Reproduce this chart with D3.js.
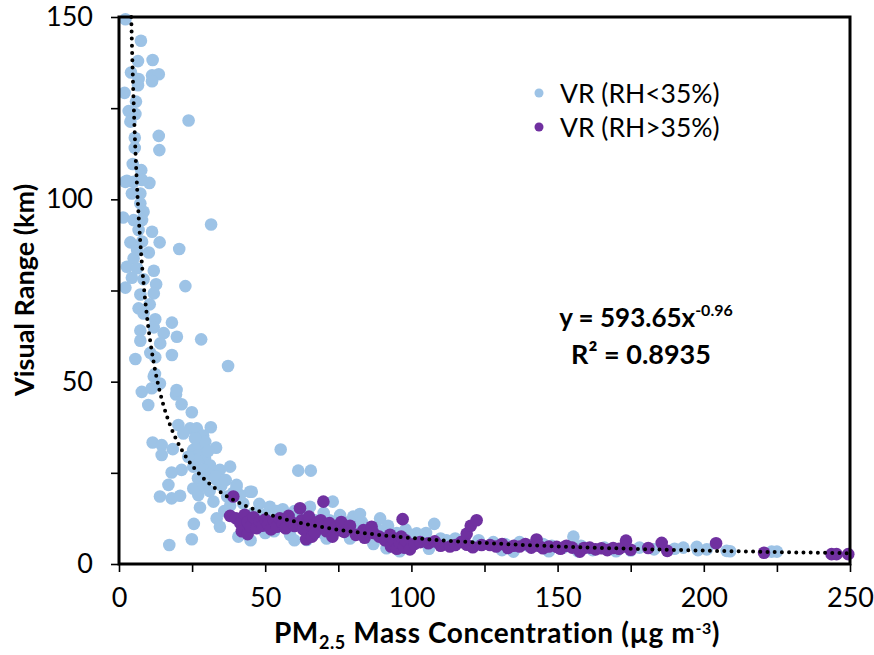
<!DOCTYPE html>
<html>
<head>
<meta charset="utf-8">
<script src="https://cdn.jsdelivr.net/npm/d3@7"></script>
<style>
  body{margin:0;background:#fff;}
  svg text{font-family:Lato,"Open Sans",sans-serif;fill:#000;}
</style>
</head>
<body>
<svg id="chart" width="874" height="655"></svg>
<script>
// VR at RH<35% : [PM2.5, visual range]
const lowRH=[
  [2.2,149.4],[7.5,143.5],[6.5,137.9],[11.5,138.2],[4.1,134.8],[6.7,133],[11.3,134],[13.6,134.3],[11.3,132.4],[6.5,131.3],
  [1.9,129.2],[5.8,126.8],[3.3,124.2],[5.6,123.4],[3.9,121.3],[23.8,121.6],[5.4,116.9],[13.6,117.4],[5.4,114.1],[13.8,113.5],
  [4.7,109.7],[7.6,108],[2.7,105.1],[5,104.8],[10.4,104.5],[7.9,105.3],[2.2,104.8],[4.4,101.6],[7.3,101.6],[7.3,98.9],
  [1.4,95],[5,94.3],[8.4,96.6],[7.9,94.3],[31.5,93.1],[6.7,91.6],[11.3,91.1],[3.9,88.2],[7.9,88.4],[13.9,88.2],
  [20.6,86.4],[6.2,86.1],[10.2,85.4],[5,83.8],[2.7,81.5],[6.2,81.1],[11.9,80.4],[4.4,78.5],[8.4,78.1],[12.7,76.7],
  [22.7,76.2],[2.2,75.8],[7.3,73.9],[11.9,74.2],[10.5,71.2],[6.7,70.1],[8.4,68.7],[12.4,67.1],[18.1,66.2],[11.9,64.9],
  [7.3,64],[15.3,63.3],[19.8,62.3],[28.1,61.6],[7.3,61.2],[14.1,60.5],[10.7,57.9],[18.1,57.3],[5.6,56.2],[12.4,56.7],
  [37.3,54.3],[11.9,51.4],[12.3,52.1],[7.8,47.2],[11.2,48.2],[14,49.5],[10,43.6],[19.5,46.5],[19.7,47.7],[21.4,43.8],
  [24.9,41.6],[20.3,38.1],[24.3,37.2],[26.6,37.2],[31.4,37.5],[28.8,35.2],[22,35.8],[11.5,33.3],[14.6,32.6],[18.4,31.5],
  [14.6,29.9],[33.2,31.9],[25.4,31.3],[27.7,30.8],[29.4,29],[26.6,28.5],[23.7,29.4],[25.4,26.7],[34.5,25.8],[38,26.7],
  [31.1,27.1],[21.4,25.8],[18,25.1],[33.4,23],[16.9,21.7],[40.2,21.7],[44.8,19.8],[14,18.5],[18,18],[20.9,18.7],
  [25.4,20.7],[27.1,18.9],[32.3,17.1],[27.7,15.5],[33.4,12.5],[34.5,10.2],[25.6,11],[24.9,6.8],[17.2,5.2],[55.3,31.4],
  [61.3,25.6],[65.6,25.6],[41.4,18.9],[42.5,16.6],[27,33],[29.5,33.5],[26,34.5],[30.5,31],[28.5,26],
  [31,24.5],[33,24],[27,23.5],[29,21.5],[31,20],[35,21.5],[36.5,23],[37,18.5],[39,19.5],[38,16],
  [36,14.5],[40.2,21.2],[45.4,19.8],[51.6,15.7],[40.8,7.5],[43,8.5],[58.5,8],[69.9,8.4],[79,7.5],[73.1,17.1],
  [65.3,15.7],[75.6,13.4],[80.1,13],[82.4,13.7],[89.3,12.5],[107.8,11],[71,7],[79,7],[92.7,5.7],[99.5,7.5],
  [101.8,8.4],[64.2,6.6],[91.5,4.3],[134.9,3.4],[155.4,7.5],[197.6,4.7],[207.8,3.6],[223.2,3.4],[225,3.4],[46,14],
  [48,16.5],[50,13.5],[52,11],[54,14.5],[56,15],[58,13],[60,14.5],[62,11.5],[47,12],[53,9],
  [57,10.5],[63,13.5],[67,12],[70,14],[72,12],[74,10],[77,11.5],[78,9],[80,10.5],[83,11.5],
  [85,9.5],[88,10],[90,9],[92,10.5],[95,8.5],[98,9.5],[100,8],[103,7.5],[105,8.5],[110,7],
  [112,6.5],[115,7],[118,6],[123,6.5],[128,6],[132,5.5],[137,6],[140,5],[145,5.5],[148,5],
  [152,4.5],[158,5],[162,3.8],[166,4.5],[170,3.5],[175,3.7],[178,4.5],[183,4],[190,4.2],[193,4.5],
  [198,3.8],[201,4],[209,3.5],[157,3.5],[96,3.5],[106,4.2],[45,6.5],[50,8.5],[60,6.5],[87,5.5],
  [131,3.8],[147,3.5]
];

// VR at RH>35%
const highRH=[
  [38,13.2],[39.1,18.5],[40,12.5],[41.5,11.2],[42,9],[43,13.5],[44,11.5],[44,8.2],[45,10.2],[46,12.8],
  [47,9.8],[48,11.6],[49,10.5],[50,12.2],[51,10.8],[52,9.5],[53,11.8],[54,10.2],[55,12.5],[56,11],
  [57,9.8],[58,13.2],[59,11.5],[60,10.4],[61.9,15.3],[62.5,12],[63,9.5],[64,11],[64,6.8],[65,13],
  [66,10.5],[66,7.5],[67,8.5],[68,11.5],[69.9,17.1],[69,12],[70,10.3],[71,9],[72,11.2],[73,7.5],
  [74,10],[75.6,9.3],[76,11.5],[77,8.8],[79,10.5],[81,8],[83.6,9.3],[84,7.2],[86.4,10.2],[87,8.5],
  [89,7.5],[91,6.5],[92.7,8],[93,4.8],[94,6.5],[95,4.2],[96,5.8],[96.5,7.5],[97,12.3],[97.5,4.5],
  [98,6.5],[99.5,4],[101,5.5],[103,6],[105.8,5.7],[108,6.2],[110,5],[113.2,4.8],[115,5.2],[117,6],
  [118.9,8.3],[120.3,10.5],[122.3,12],[119,5.3],[121,4.6],[124,5.2],[126.9,5.2],[129,4.8],
  [131,5.5],[133,4.4],[135,5],[137,4.8],[139,5.5],[141,4.5],[142.8,6.7],[143.5,5],[145,4.3],[147,4.8],
  [149.7,4.7],[151,4.2],[153,5],[155,4.5],[157.6,3.4],[159,4.4],[161,4.5],[163,4],[165,4.3],[167,3.8],
  [169,4.4],[171,4.2],[173.4,6.4],[173,4.8],[175,3.9],[181,4.4],[185.6,5.8],[187.5,3.6],[204.2,5.7],[220.6,3.1],
  [243.7,2.7],[245.4,2.7],[249.4,2.7]
];

const xTicks=[0,50,100,150,200,250];
const yTicks=[0,50,100,150];
const legendLabels=["VR (RH<35%)","VR (RH>35%)"];
// power-law trendline shown on the chart: y = a*x^b
const trendA=593.65, trendB=-0.96, trendR2="0.8935";

const svg=d3.select("#chart");
const m={top:17,right:24,bottom:91,left:119};
const w=874,h=655;
const blue="#9dc3e6",purple="#7030a0";

const x=d3.scaleLinear().domain([0,250]).range([m.left,w-m.right]);
const y=d3.scaleLinear().domain([0,150]).range([h-m.bottom,m.top]);

svg.append("clipPath").attr("id","clip").append("rect")
  .attr("x",m.left).attr("y",m.top-7).attr("width",w-m.left-m.right+7).attr("height",h-m.top-m.bottom+7);

const gx=svg.append("g").attr("transform",`translate(0,${h-m.bottom})`)
  .call(d3.axisBottom(x).tickValues(d3.range(0,251,25)).tickSize(8).tickFormat(d=>xTicks.includes(d)?d:""));
gx.select(".domain").remove();
gx.selectAll("line").attr("stroke-width",1.6);
gx.selectAll("text").attr("font-size","27px").attr("dy","1.2em");

const gy=svg.append("g").attr("transform",`translate(${m.left},0)`)
  .call(d3.axisLeft(y).tickValues(d3.range(0,151,25)).tickSize(8).tickFormat(d=>yTicks.includes(d)?d:""));
gy.select(".domain").remove();
gy.selectAll("line").attr("stroke-width",1.6);
gy.selectAll("text").attr("font-size","27px").attr("x",-26);

const plot=svg.append("g").attr("clip-path","url(#clip)");

plot.selectAll(".lo").data(lowRH).enter().append("circle")
  .attr("cx",d=>x(d[0])).attr("cy",d=>y(d[1])).attr("r",6.3).attr("fill",blue);
plot.selectAll(".hi").data(highRH).enter().append("circle")
  .attr("cx",d=>x(d[0])).attr("cy",d=>y(d[1])).attr("r",6.3).attr("fill",purple);

const xStart=Math.pow(150/trendA,1/trendB);
const trend=d3.range(0,401).map(i=>{
  const xv=Math.exp(Math.log(xStart)+(Math.log(250)-Math.log(xStart))*i/400);
  return [xv,trendA*Math.pow(xv,trendB)];
});
plot.append("path").datum(trend)
  .attr("d",d3.line().x(d=>x(d[0])).y(d=>y(d[1])))
  .attr("fill","none").attr("stroke","#000").attr("stroke-width",4)
  .attr("stroke-linecap","round").attr("stroke-dasharray","0 7.2");

svg.append("rect").attr("x",m.left).attr("y",m.top)
  .attr("width",w-m.left-m.right).attr("height",h-m.top-m.bottom)
  .attr("fill","none").attr("stroke","#000").attr("stroke-width",3);

// legend
const leg=svg.append("g").attr("transform","translate(539,93)");
[blue,purple].forEach((c,i)=>{
  leg.append("circle").attr("cx",0).attr("cy",i*34).attr("r",4.5).attr("fill",c);
  leg.append("text").attr("x",21).attr("y",i*34).attr("dy","0.36em")
    .attr("font-size","26.5px").text(legendLabels[i]);
});

// equation
const eq=svg.append("text").attr("x",646).attr("y",327).attr("text-anchor","middle")
  .attr("font-size","26px").attr("font-weight","bold");
eq.append("tspan").text(`y = ${trendA}x`);
eq.append("tspan").attr("dy",-11).attr("font-size","16px").text(trendB.toFixed(2));
svg.append("text").attr("x",641).attr("y",364).attr("text-anchor","middle")
  .attr("font-size","27px").attr("font-weight","bold").text(`R² = ${trendR2}`);

// axis titles
const xt=svg.append("text").attr("x",497).attr("y",643).attr("text-anchor","middle")
  .attr("font-size","28px").attr("font-weight","bold").attr("letter-spacing","0.6px");
xt.append("tspan").text("PM");
xt.append("tspan").attr("dy",6).attr("font-size","18px").text("2.5");
xt.append("tspan").attr("dy",-6).text(" Mass Concentration (µg m");
xt.append("tspan").attr("dy",-9).attr("font-size","16px").text("-3");
xt.append("tspan").attr("dy",9).text(")");

svg.append("text").attr("transform","translate(34,290) rotate(-90)")
  .attr("text-anchor","middle").attr("font-size","27px").attr("font-weight","bold")
  .text("Visual Range (km)");
</script>
</body>
</html>
